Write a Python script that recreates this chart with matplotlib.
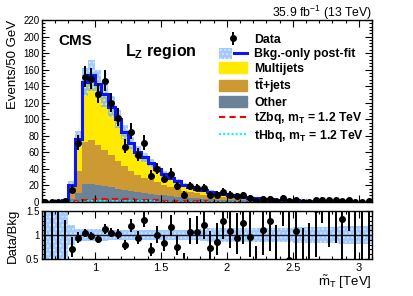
import numpy as np
import matplotlib
matplotlib.use("Agg")
import matplotlib.pyplot as plt
from matplotlib.patches import Patch
from matplotlib.lines import Line2D
from matplotlib.legend_handler import HandlerTuple
from matplotlib.ticker import MultipleLocator, FixedLocator

plt.rcParams['font.family'] = ['Liberation Sans', 'DejaVu Sans']
plt.rcParams['mathtext.fontset'] = 'custom'
plt.rcParams['mathtext.rm'] = 'Liberation Sans'
plt.rcParams['mathtext.bf'] = 'Liberation Sans:bold'
plt.rcParams['mathtext.it'] = 'Liberation Sans:italic'
plt.rcParams['hatch.linewidth'] = 0.8

# ---------------- data ----------------
bin_edges = np.round(np.arange(0.60, 3.1001, 0.05), 3)   # TeV, 50 bins

data = [0, 0, 0, 1, 15, 71, 151, 149, 131, 146, 120, 102, 67, 85, 57, 71,
        32, 40, 28, 34, 19, 9, 19, 17, 17, 9, 9, 12, 9, 7, 8, 5, 1, 4, 4, 1,
        5, 1, 2, 0, 0, 2, 3, 2, 2, 1, 2, 0, 0, 1]

multijets = [0.1, 0.2, 0.3, 1.0, 10, 38, 72, 78, 74, 67, 58.5, 50, 41, 33,
             28, 25, 20, 16, 13, 11, 9.2, 7.4, 6.0, 5.7, 5.0, 4.5, 3.9, 3.5,
             3.2, 3.0, 2.55, 2.0, 1.65, 1.4, 1.22, 1.08, 0.96, 0.85, 0.74,
             0.64, 0.59, 0.53, 0.44, 0.38, 0.34, 0.30, 0.26, 0.24, 0.22, 0.20]

ttbar = [0.1, 0.1, 0.2, 0.7, 7, 27, 51, 53, 48, 44, 38.5, 34, 29, 25,
         21, 18, 17, 15, 13, 11, 9.5, 8, 7, 5.9, 5.1, 4.3, 3.6, 3.1,
         2.7, 2.3, 2.0, 1.6, 1.3, 1.1, 0.93, 0.80, 0.72, 0.62, 0.55,
         0.48, 0.43, 0.38, 0.33, 0.28, 0.25, 0.22, 0.20, 0.18, 0.16, 0.15]

other = [0.1, 0.1, 0.1, 0.8, 4, 11, 22, 22, 21, 19, 18, 16, 15, 13,
         12, 11, 10, 9, 8, 7, 6.3, 5.6, 5.0, 4.4, 3.9, 3.4, 3.0, 2.7,
         2.4, 2.1, 1.85, 1.6, 1.35, 1.1, 0.95, 0.82, 0.72, 0.63, 0.56,
         0.48, 0.43, 0.39, 0.33, 0.29, 0.26, 0.23, 0.20, 0.18, 0.17, 0.15]

rel_unc = [1.0, 1.0, 1.0, 0.5, 0.20, 0.13, 0.12, 0.12, 0.12, 0.12, 0.11, 0.11,
           0.10, 0.10, 0.10, 0.10, 0.10, 0.10, 0.10, 0.10, 0.10, 0.10, 0.10,
           0.11, 0.12, 0.14, 0.15, 0.15, 0.15, 0.15, 0.15, 0.15, 0.15, 0.15,
           0.15, 0.15, 0.15, 0.15, 0.16, 0.16, 0.16, 0.16, 0.16, 0.16, 0.16,
           0.18, 0.18, 0.18, 0.18, 0.18]

tzbq = [0, 0, 0, 0.05, 0.5, 1.5, 2.2, 2.8, 3.2, 3.6, 3.9, 4.0, 3.8, 3.4,
        3.0, 2.6, 2.2, 1.9, 1.6, 1.4, 1.2, 1.0, 0.9, 0.8, 0.7, 0.6, 0.55,
        0.5, 0.45, 0.4, 0.38, 0.35, 0.32, 0.3, 0.28, 0.26, 0.24, 0.22, 0.2,
        0.19, 0.18, 0.17, 0.16, 0.15, 0.14, 0.13, 0.12, 0.11, 0.1, 0.1]

thbq = [0, 0, 0, 0.02, 0.15, 0.4, 0.6, 0.8, 0.95, 1.05, 1.15, 1.2, 1.15,
        1.05, 0.9, 0.8, 0.68, 0.58, 0.5, 0.43, 0.37, 0.32, 0.28, 0.25, 0.22,
        0.2, 0.18, 0.16, 0.14, 0.13, 0.12, 0.11, 0.1, 0.09, 0.08, 0.08,
        0.07, 0.07, 0.06, 0.06, 0.05, 0.05, 0.05, 0.04, 0.04, 0.04, 0.03,
        0.03, 0.03, 0.03]

# ---------------- derived ----------------
data = np.array(data, float)
mj = np.array(multijets); tt = np.array(ttbar); ot = np.array(other)
ru = np.array(rel_unc)
centers = 0.5 * (bin_edges[:-1] + bin_edges[1:])
c1 = ot
c2 = ot + tt
total = ot + tt + mj

# Garwood-like Poisson intervals (Wilson-Hilferty approx.)
dsafe = np.maximum(data, 1e-9)
lo = np.where(data > 0, data * (1 - 1 / (9 * dsafe) - 1 / (3 * np.sqrt(dsafe))) ** 3, 0.0)
hi = (data + 1) * (1 - 1 / (9 * (data + 1)) + 1 / (3 * np.sqrt(data + 1))) ** 3
err_lo = data - lo
err_hi = hi - data

# ---------------- figure ----------------
W, H = 413, 296
fig = plt.figure(figsize=(W / 100, H / 100), dpi=100)
L, R = 42 / W, 372 / W
ax = fig.add_axes([L, 1 - 202 / H, R - L, (202 - 20) / H])
rx = fig.add_axes([L, 1 - 259 / H, R - L, (259 - 211) / H])

col_mj = '#ffea00'
col_tt = '#cc9933'
col_ot = '#6b8299'
col_band = (0.40, 0.66, 1.0, 0.62)
col_line = '#0a14ff'

ax.stairs(c1, bin_edges, baseline=0, fill=True, color=col_ot, lw=0)
ax.stairs(c2, bin_edges, baseline=c1, fill=True, color=col_tt, lw=0)
ax.stairs(total, bin_edges, baseline=c2, fill=True, color=col_mj, lw=0)
ax.stairs(total * (1 + ru), bin_edges, baseline=total * (1 - ru), fill=True,
          facecolor=col_band, edgecolor='#dbeaff', lw=0, hatch='....')
ax.stairs(total, bin_edges, baseline=None, color=col_line, lw=2.2)
ax.stairs(tzbq, bin_edges, baseline=None, color='#ff0000', lw=1.5, ls=(0, (3, 2)))
ax.stairs(thbq, bin_edges, baseline=None, color='#00ffff', lw=1.5, ls=(0, (1, 1)))
ax.errorbar(centers, data, yerr=[err_lo, err_hi], fmt='o', color='black',
            ms=4, elinewidth=1.4, capsize=0, zorder=5)

ax.set_xlim(0.6, 3.1)
ax.set_ylim(0, 220)
ax.yaxis.set_major_locator(MultipleLocator(20))
ax.yaxis.set_minor_locator(MultipleLocator(4))
ax.xaxis.set_major_locator(FixedLocator([1, 1.5, 2, 2.5, 3]))
ax.xaxis.set_minor_locator(MultipleLocator(0.1))
ax.tick_params(axis='x', labelbottom=False)

# ratio panel
ratio = data / total
r_lo = err_lo / total
r_hi = err_hi / total
rx.stairs(1 + ru, bin_edges, baseline=1 - ru, fill=True,
          facecolor=col_band, edgecolor='#dbeaff', lw=0, hatch='....')
rx.axhline(1, color='#202040', lw=1.0)
rx.errorbar(centers, ratio, yerr=[r_lo, r_hi], fmt='o', color='black',
            ms=4, elinewidth=1.4, capsize=0, zorder=5)
rx.set_xlim(0.6, 3.1)
rx.set_ylim(0.5, 1.5)
rx.yaxis.set_major_locator(FixedLocator([0.5, 1, 1.5]))
rx.yaxis.set_minor_locator(MultipleLocator(0.1))
rx.set_yticklabels(['0.5', '1', '1.5'])
rx.xaxis.set_major_locator(FixedLocator([1, 1.5, 2, 2.5, 3]))
rx.set_xticklabels(['1', '1.5', '2', '2.5', '3'])
rx.xaxis.set_minor_locator(MultipleLocator(0.1))

for a in (ax, rx):
    a.tick_params(which='both', direction='in', top=True, right=True,
                  width=0.8, colors='black')
    a.tick_params(which='major', length=5)
    a.tick_params(which='minor', length=2.5)
    a.tick_params(axis='y', labelsize=7, pad=2)
    a.tick_params(axis='x', labelsize=8, pad=3)
    for s in a.spines.values():
        s.set_linewidth(1.0)

# texts
fig.text(58 / W, 1 - 45 / H, 'CMS', fontsize=11, fontweight='bold', va='baseline')
fig.text(125 / W, 1 - 56 / H, r'$\mathbf{L_{Z}}$ region', fontsize=11.5,
         fontweight='bold', va='baseline')
fig.text(372 / W, 1 - 17 / H, r'35.9 fb$^{-1}$ (13 TeV)', fontsize=8.8,
         ha='right', va='baseline')
fig.text(13 / W, 1 - 20 / H, 'Events/50 GeV', fontsize=9.5, rotation=90,
         ha='center', va='top')
fig.text(13 / W, 1 - 236 / H, 'Data/Bkg', fontsize=9.5, rotation=90,
         ha='center', va='center')
fig.text(372 / W, 1 - 286 / H, r'$\tilde{\mathrm{m}}_{\mathrm{T}}$ [TeV]',
         fontsize=9.5, ha='right', va='baseline')

# legend
h_data = ax.errorbar([], [], yerr=[[], []], fmt='o', color='black', ms=4,
                     elinewidth=1.4, capsize=0)
h_band = Patch(facecolor=col_band, edgecolor='#dbeaff', hatch='....', lw=0)
h_line = Line2D([], [], color=col_line, lw=2.2)
handles = [h_data, (h_band, h_line), Patch(color=col_mj), Patch(color=col_tt),
           Patch(color=col_ot),
           Line2D([], [], color='#ff0000', lw=1.5, ls=(0, (3, 2))),
           Line2D([], [], color='#00ffff', lw=1.5, ls=(0, (1, 1)))]
labels = ['Data', 'Bkg.-only post-fit', 'Multijets', r't$\mathbf{\bar{t}}$+jets',
          'Other', r'tZbq, m$_\mathbf{T}$ = 1.2 TeV', r'tHbq, m$_\mathbf{T}$ = 1.2 TeV']
ax.legend(handles, labels, loc='upper left', bbox_to_anchor=(0.51, 0.972),
          frameon=False, prop={'weight': 'bold', 'size': 8.8},
          handlelength=2.3, handleheight=1.0, handletextpad=0.6,
          labelspacing=0.12, borderpad=0.2,
          handler_map={tuple: HandlerTuple(ndivide=None)})

fig.savefig('out.png', dpi=100)
